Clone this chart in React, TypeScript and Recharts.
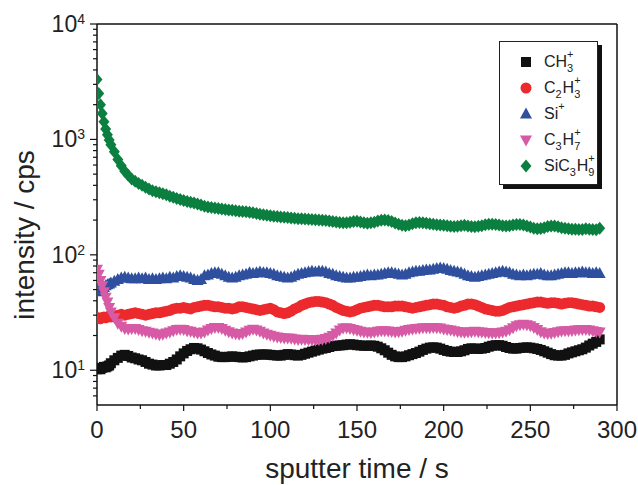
import { Label, Legend, ReferenceLine, Scatter, ScatterChart, XAxis, YAxis } from 'recharts'

// sampling times (s), denser at the start where green drops fast
const sputterTime = [
  0, 1, 2, 3, 4, 5, 6, 7, 8, 10, 12, 14, 16, 18, 20,
  22, 24, 26, 28, 30, 32, 34, 36, 38, 40,
  42, 44, 46, 48, 50, 52, 54, 56, 58, 60,
  62, 64, 66, 68, 70, 72, 74, 76, 78, 80,
  82, 84, 86, 88, 90, 92, 94, 96, 98, 100,
  102, 104, 106, 108, 110, 112, 114, 116, 118, 120,
  122, 124, 126, 128, 130, 132, 134, 136, 138, 140,
  142, 144, 146, 148, 150, 152, 154, 156, 158, 160,
  162, 164, 166, 168, 170, 172, 174, 176, 178, 180,
  182, 184, 186, 188, 190, 192, 194, 196, 198, 200,
  202, 204, 206, 208, 210, 212, 214, 216, 218, 220,
  222, 224, 226, 228, 230, 232, 234, 236, 238, 240,
  242, 244, 246, 248, 250, 252, 254, 256, 258, 260,
  262, 264, 266, 268, 270, 272, 274, 276, 278, 280,
  282, 284, 286, 288, 290,
]

const ch3 = [
  10.2, 10.3, 10.2, 10.5, 10.7, 10.6, 10.8, 11, 11.5, 12.2, 12.8, 13.4, 13.6, 13.3, 12.9,
  12.7, 12.4, 12.2, 11.8, 11.4, 11.2, 11, 11, 11.1, 11.1,
  11.4, 11.8, 12.4, 13.2, 14, 14.7, 15.2, 15.6, 15.5, 15.1,
  14.6, 14.1, 13.7, 13.4, 13.1, 13, 13, 13.1, 13.2, 13.1,
  13, 12.9, 13, 13.2, 13.4, 13.6, 13.7, 13.7, 13.7, 13.6,
  13.5, 13.4, 13.4, 13.6, 13.8, 13.7, 13.5, 13.4, 13.6, 13.9,
  14.2, 14.5, 14.8, 15.1, 15.4, 15.6, 15.9, 16.2, 16.3, 16.4,
  16.5, 16.7, 16.8, 16.7, 16.5, 16.4, 16.3, 16.3, 16.4, 16.3,
  16, 15.5, 14.9, 14.2, 13.6, 13.2, 13, 13, 13.2, 13.5,
  13.8, 14.1, 14.5, 15, 15.4, 15.7, 15.8, 15.7, 15.4, 15,
  14.7, 14.5, 14.4, 14.4, 14.6, 14.9, 15.3, 15.5, 15.4, 15.3,
  15.4, 15.6, 16, 16.3, 16.5, 16.5, 16.3, 15.9, 15.6, 15.4,
  15.4, 15.6, 15.7, 15.8, 15.7, 15.5, 15.3, 15, 14.6, 14.2,
  13.8, 13.5, 13.4, 13.4, 13.6, 14, 14.3, 14.6, 14.9, 15.2,
  15.7, 16.4, 17, 17.6, 18.5,
]

const c2h3 = [
  28, 28.5, 28, 28.5, 29, 28.5, 29, 29.5, 29, 29.5, 30, 30.5, 30, 30.5, 31,
  31.5, 31, 30.5, 30, 30.5, 31, 31.5, 31.5, 32, 32.5,
  33, 34, 34.5, 34.5, 35, 34.5, 34, 35, 35.5, 36,
  36.5, 36.5, 36, 35.5, 35.5, 35, 34.5, 34.5, 34, 34.5,
  35.5, 35.5, 35, 34.5, 34, 33.5, 33, 33.5, 34, 34.5,
  33.5, 32, 31.5, 31, 31.5, 32.5, 34, 35, 36.5, 37.5,
  38.5, 39, 39.5, 39.5, 39, 38.5, 37.5, 36.5, 35, 34,
  33, 32.5, 32, 32.5, 33.5, 34.5, 35, 35.5, 36, 36.5,
  36.5, 36, 35.5, 35.5, 35.5, 36, 36, 36, 35.5, 35,
  34.5, 35, 35.5, 36, 36.5, 37, 37.5, 37.5, 37, 36.5,
  35.5, 35, 34.5, 35, 36, 36.5, 37.5, 37.5, 37, 36,
  35, 34, 33.5, 33, 32.5, 32.5, 33, 34, 35, 35.5,
  36, 36.5, 37, 37.5, 38, 38.5, 39, 39, 38.5, 38,
  38.5, 38.5, 38, 37.5, 38, 38.5, 38.5, 38, 37.5, 37,
  36.5, 36, 36, 35.5, 35,
]

const si = [
  50, 48, 50, 51, 52, 54, 55, 56, 57, 59, 61, 63, 64, 63, 62,
  62, 63, 62, 63, 61, 62, 61, 62, 63, 62,
  64, 63, 65, 66, 65, 64, 63, 61, 60, 61,
  66, 67, 69, 70, 70, 68, 66, 64, 63, 64,
  66, 67, 68, 70, 69, 70, 71, 70, 70, 69,
  68, 66, 65, 64, 63, 64, 66, 68, 69, 70,
  71, 72, 71, 72, 72, 71, 69, 68, 66, 65,
  64, 63, 63, 64, 64, 65, 66, 67, 66, 67,
  67, 68, 69, 70, 70, 69, 68, 67, 68, 70,
  71, 72, 72, 73, 74, 74, 75, 76, 77, 76,
  75, 73, 72, 71, 70, 68, 66, 65, 64, 65,
  66, 67, 68, 69, 70, 71, 72, 71, 70, 68,
  67, 66, 67, 66, 67, 68, 68, 69, 67, 66,
  66, 67, 68, 69, 70, 70, 69, 70, 70, 71,
  70, 70, 69, 70, 69,
]

const c3h7 = [
  75, 68, 60, 54, 48, 43, 39, 35, 32, 28.5, 25.5, 24, 23, 22.8, 23,
  23, 22.5, 22, 21.8, 21.3, 21, 20.6, 20.3, 20.5, 21,
  21.5, 22, 22.5, 22.7, 22.5, 22, 21.8, 21.3, 21, 21,
  21.5, 22.3, 23, 23.5, 23.5, 23, 22.2, 21.6, 21, 20.7,
  20.5, 20.8, 21.5, 22.2, 22.7, 22.3, 21.8, 21, 20.5, 20.1,
  19.7, 19.4, 19.2, 19, 19, 18.9, 18.7, 18.5, 18.6, 18.5,
  18.4, 18.4, 18.3, 18.4, 18.6, 18.8, 19.3, 20, 21, 22.3,
  23.2, 23.3, 23, 22.6, 22.2, 21.8, 21.5, 21.3, 21.2, 21.5,
  21.8, 22, 22, 21.9, 21.7, 21.5, 21.6, 21.8, 22.2, 22.5,
  22.8, 23, 23.1, 23.3, 23.3, 23.4, 23.5, 23.4, 23.2, 22.8,
  22.6, 22.3, 22, 21.7, 21.4, 21.3, 21.4, 21.6, 21.8, 21.6,
  21.4, 21.2, 21.1, 21, 21, 21.1, 21.4, 21.8, 22.4, 23.3,
  24.3, 24.8, 25, 24.8, 24.3, 23.5, 22.5, 21.6, 21, 20.8,
  20.9, 21.2, 21.6, 21.9, 22, 22, 22.1, 22.3, 22.4, 22.5,
  22.5, 22.3, 22, 21.7, 21.5,
]

const sic3h9 = [
  3300, 2500, 2000, 1680, 1420, 1230, 1100, 990, 900, 780, 670, 590, 530, 490, 455,
  435, 415, 400, 385, 372, 360, 352, 345, 338, 332,
  322, 316, 308, 302, 296, 290, 286, 281, 276, 270,
  264, 260, 257, 254, 252, 249, 247, 245, 244, 241,
  239, 237, 236, 234, 231, 228, 225, 222, 220, 218,
  216, 215, 213, 212, 211, 209, 207, 205, 205, 204,
  203, 202, 201, 200, 199, 198, 196, 194, 193, 191,
  190, 190, 192, 194, 195, 193, 190, 188, 190, 192,
  196, 199, 200, 198, 194, 189, 184, 180, 179, 181,
  186, 190, 191, 190, 188, 186, 184, 182, 181, 180,
  179, 177, 176, 177, 179, 180, 178, 176, 175, 177,
  179, 182, 184, 184, 183, 181, 179, 178, 179, 181,
  183, 183, 181, 178, 174, 170, 168, 169, 172, 176,
  178, 178, 175, 172, 170, 168, 167, 167, 166, 166,
  168, 167, 166, 165, 170,
]

const xTicks = [0, 25, 50, 75, 100, 125, 150, 175, 200, 225, 250, 275, 300]
const yTicks = [
  6, 7, 8, 9, 10, 20, 30, 40, 50, 60, 70, 80, 90,
  100, 200, 300, 400, 500, 600, 700, 800, 900,
  1000, 2000, 3000, 4000, 5000, 6000, 7000, 8000, 9000, 10000,
]

type Part = { text: string, sub?: string, sup?: string }
type MarkerKind = 'square' | 'circle' | 'up' | 'down' | 'diamond'

const series: { key: string, values: number[], color: string, marker: MarkerKind, label: Part[] }[] = [
  { key: 'ch3', values: ch3, color: '#111111', marker: 'square', label: [{ text: 'CH', sub: '3', sup: '+' }] },
  { key: 'c2h3', values: c2h3, color: '#ec2a2e', marker: 'circle', label: [{ text: 'C', sub: '2' }, { text: 'H', sub: '3', sup: '+' }] },
  { key: 'si', values: si, color: '#2f4f9f', marker: 'up', label: [{ text: 'Si', sup: '+' }] },
  { key: 'c3h7', values: c3h7, color: '#d65aa5', marker: 'down', label: [{ text: 'C', sub: '3' }, { text: 'H', sub: '7', sup: '+' }] },
  { key: 'sic3h9', values: sic3h9, color: '#0b7f3f', marker: 'diamond', label: [{ text: 'SiC', sub: '3' }, { text: 'H', sub: '9', sup: '+' }] },
]

const toPoints = (vals: number[]) => sputterTime.map((t, i) => ({ t, v: vals[i] }))

function markerShape(kind: MarkerKind, cx: number, cy: number, fill: string) {
  switch (kind) {
    case 'square':
      return <rect x={cx - 5} y={cy - 5} width={10} height={10} fill={fill} />
    case 'circle':
      return <circle cx={cx} cy={cy} r={5.5} fill={fill} />
    case 'up':
      return <polygon points={`${cx},${cy - 6.5} ${cx + 6},${cy + 4.5} ${cx - 6},${cy + 4.5}`} fill={fill} />
    case 'down':
      return <polygon points={`${cx},${cy + 6.5} ${cx + 6},${cy - 4.5} ${cx - 6},${cy - 4.5}`} fill={fill} />
    default:
      return <polygon points={`${cx},${cy - 6.5} ${cx + 5.5},${cy} ${cx},${cy + 6.5} ${cx - 5.5},${cy}`} fill={fill} />
  }
}

const YTick = (props: any) => {
  const { x, y, payload } = props
  const e = Math.log10(payload.value)
  const major = Math.abs(e - Math.round(e)) < 1e-6
  return (
    <g>
      <line x1={x - (major ? 7 : 4)} x2={x} y1={y} y2={y} stroke="#111" strokeWidth={1.2} />
      {major && (
        <text x={x - 12} y={y + 8} textAnchor="end" fontSize={23} fill="#222">
          10<tspan dy={-8} fontSize={14}>{Math.round(e)}</tspan>
        </text>
      )}
    </g>
  )
}

const XTick = (props: any) => {
  const { x, y, payload } = props
  const major = payload.value % 50 === 0
  return (
    <g>
      <line x1={x} x2={x} y1={y} y2={y + (major ? 6 : 4)} stroke="#111" strokeWidth={1.2} />
      {major && (
        <text x={x} y={y + 33} textAnchor="middle" fontSize={24} fill="#222">{payload.value}</text>
      )}
    </g>
  )
}

function Formula({ parts }: { parts: Part[] }) {
  return (
    <span>
      {parts.map((p, i) => (
        <span key={i}>
          {p.text}
          {(p.sub || p.sup) && (
            <span style={{ display: 'inline-block', position: 'relative', width: 7, height: 10 }}>
              {p.sup && <span style={{ position: 'absolute', left: 0, top: -8, fontSize: 11, lineHeight: 1 }}>{p.sup}</span>}
              {p.sub && <span style={{ position: 'absolute', left: 0, top: 6, fontSize: 11, lineHeight: 1 }}>{p.sub}</span>}
            </span>
          )}
        </span>
      ))}
    </span>
  )
}

function LegendBox() {
  return (
    <div style={{
      width: 99, height: 144, boxSizing: 'border-box', border: '1px solid #222', background: '#fff',
      boxShadow: '4px 4px 0 #111', paddingTop: 7, color: '#222', fontSize: 16,
    }}>
      {series.map(s => (
        <div key={s.key} style={{ display: 'flex', alignItems: 'center', height: 26 }}>
          <svg width={14} height={14} style={{ marginLeft: 19, marginRight: 11 }}>
            {markerShape(s.marker, 7, 7, s.color)}
          </svg>
          <Formula parts={s.label} />
        </div>
      ))}
    </div>
  )
}

export default function App() {
  return (
    <div style={{ position: 'absolute', left: 0, top: 0, fontFamily: '"Liberation Sans", Arial, sans-serif' }}>
      <ScatterChart width={638} height={485} margin={{ top: 24, right: 21, bottom: 0, left: 17 }}>
        <XAxis
          type="number" dataKey="t" domain={[0, 300]} ticks={xTicks} interval={0} height={80}
          tickSize={0} tickMargin={0} tickLine={false} tick={<XTick />}
          axisLine={{ stroke: '#111', strokeWidth: 1.5 }} allowDataOverflow
        >
          <Label content={() => (
            <text x={357} y={478} textAnchor="middle" fontSize={28} fill="#222">sputter time / s</text>
          )} />
        </XAxis>
        <YAxis
          type="number" dataKey="v" scale="log" domain={[5, 10000]} ticks={yTicks} interval={0} width={80}
          tickSize={0} tickMargin={0} tickLine={false} tick={<YTick />}
          axisLine={{ stroke: '#111', strokeWidth: 1.5 }} allowDataOverflow
        >
          <Label content={() => (
            <text x={34} y={235} transform="rotate(-90 34 235)" textAnchor="middle" fontSize={28} fill="#222">intensity / cps</text>
          )} />
        </YAxis>
        <ReferenceLine y={10000} stroke="#111" strokeWidth={1.5} />
        <ReferenceLine x={300} stroke="#111" strokeWidth={1.5} />
        {series.map(s => (
          <Scatter
            key={s.key}
            name={s.key}
            data={toPoints(s.values)}
            fill={s.color}
            isAnimationActive={false}
            shape={(p: any) => markerShape(s.marker, p.cx, p.cy, s.color)}
          />
        ))}
        <Legend
          layout="horizontal" verticalAlign="middle" align="center"
          wrapperStyle={{ left: 499, top: 41, width: 'auto', height: 'auto' }}
          content={() => <LegendBox />}
        />
      </ScatterChart>
    </div>
  )
}
